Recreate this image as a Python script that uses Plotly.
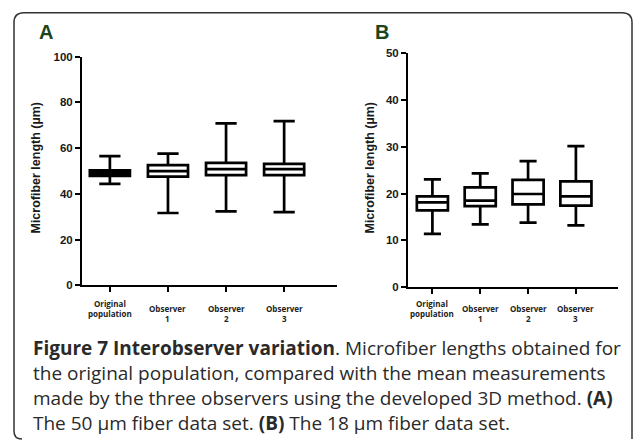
import plotly.graph_objects as go

W, H = 633, 445

cat_labels = ["Original<br>population", "Observer<br>1", "Observer<br>2", "Observer<br>3"]

# Panel A: 50 µm fiber data set
A_lo = [44.3, 31.6, 32.3, 32.0]
A_q1 = [47.8, 47.5, 48.2, 48.2]
A_med = [49.0, 49.9, 50.8, 50.8]
A_q3 = [50.2, 52.5, 53.5, 53.1]
A_hi = [56.5, 57.6, 70.8, 71.8]

# Panel B: 18 µm fiber data set
B_lo = [11.4, 13.4, 13.8, 13.2]
B_q1 = [16.4, 17.3, 17.7, 17.4]
B_med = [18.1, 18.5, 19.9, 19.4]
B_q3 = [19.4, 21.3, 22.9, 22.6]
B_hi = [23.0, 24.3, 26.9, 30.1]

A_ticks = [0, 20, 40, 60, 80, 100]
B_ticks = [0, 10, 20, 30, 40, 50]

caption_lines = [
    "<b>Figure 7 Interobserver variation</b>. Microfiber lengths obtained for",
    "the original population, compared with the mean measurements",
    "made by the three observers using the developed 3D method. <b>(A)</b>",
    "The 50 µm fiber data set. <b>(B)</b> The 18 µm fiber data set.",
]

def px(x):
    return x / W

def py(y):
    return 1 - y / H

fig = go.Figure()

for i in range(4):
    fig.add_trace(go.Box(
        x=[i], lowerfence=[A_lo[i]], q1=[A_q1[i]], median=[A_med[i]],
        q3=[A_q3[i]], upperfence=[A_hi[i]],
        width=0.69, whiskerwidth=0.53,
        line=dict(color="black", width=2.7),
        fillcolor="black" if i == 0 else "white",
        xaxis="x", yaxis="y", showlegend=False, hoverinfo="skip",
    ))
    fig.add_trace(go.Box(
        x=[i], lowerfence=[B_lo[i]], q1=[B_q1[i]], median=[B_med[i]],
        q3=[B_q3[i]], upperfence=[B_hi[i]],
        width=0.65, whiskerwidth=0.55,
        line=dict(color="black", width=2.7),
        fillcolor="white",
        xaxis="x2", yaxis="y2", showlegend=False, hoverinfo="skip",
    ))

axis_common = dict(showline=True, linecolor="black", linewidth=2, ticks="outside",
                   ticklen=5, tickwidth=2, tickcolor="black", showgrid=False,
                   zeroline=False)
tickfont = dict(family="Liberation Sans, Arial", size=11.5, color="#1a1a1a", weight="bold")

fig.update_layout(
    width=W, height=H, margin=dict(l=0, r=0, t=0, b=0),
    paper_bgcolor="white", plot_bgcolor="white",
    xaxis=dict(domain=[px(82), px(337)], range=[-0.48, 3.91], tickvals=[0, 1, 2, 3],
               showticklabels=False, anchor="y", **axis_common),
    yaxis=dict(domain=[py(287), py(52)], range=[0, 100], tickvals=A_ticks,
               tickfont=tickfont, anchor="x", **axis_common),
    xaxis2=dict(domain=[px(408), px(618)], range=[-0.51, 3.88], tickvals=[0, 1, 2, 3],
                showticklabels=False, anchor="y2", **axis_common),
    yaxis2=dict(domain=[py(289), py(48.3)], range=[0, 50], tickvals=B_ticks,
                tickfont=tickfont, anchor="x2", **axis_common),
)

ann = []
# panel letters
for letter, lx in (("A", 37), ("B", 373)):
    ann.append(dict(text=f"<b>{letter}</b>", x=px(lx), y=py(27), xref="paper", yref="paper",
                    xanchor="left", yanchor="middle", showarrow=False,
                    font=dict(family="Liberation Sans, Arial", size=20, color="#1b451b")))
# y-axis titles
ytfont = dict(family="Liberation Sans, Arial", size=12.5, color="#1a1a1a", weight="bold")
for tx in (36, 370):
    ann.append(dict(text="Microfiber length (µm)", x=px(tx), y=py(166), xref="paper", yref="paper",
                    textangle=-90, showarrow=False, font=ytfont, xanchor="center", yanchor="middle"))
# x category labels
cfont = dict(family="Open Sans", size=8, color="#222", weight="bold")
for xr in ("x", "x2"):
    for i, lab in enumerate(cat_labels):
        cy = 311 if i == 0 else 316
        ann.append(dict(text=lab, x=i, y=py(cy), xref=xr, yref="paper",
                        showarrow=False, font=cfont, xanchor="center", yanchor="middle"))
# caption
baselines = [357, 383, 409, 435]
for line, b in zip(caption_lines, baselines):
    ann.append(dict(text=line, x=px(31), y=py(b - 6), xref="paper", yref="paper",
                    xanchor="left", yanchor="middle", showarrow=False,
                    font=dict(family="Open Sans", size=19, color="#2a2a2a")))
fig.update_layout(annotations=ann)

# rounded frame
r = 10
path = (f"M {px(22)} {py(445)} Q {px(14)} {py(445)} {px(14)} {py(437)} "
        f"L {px(14)} {py(7 + r)} Q {px(14)} {py(7)} {px(14 + r)} {py(7)} "
        f"L {px(632 - r)} {py(7)} Q {px(632)} {py(7)} {px(632)} {py(7 + r)} L {px(632)} {py(445)}")
fig.add_shape(type="path", path=path, xref="paper", yref="paper",
              line=dict(color="#333", width=1.5))

fig.write_html("out.html")
